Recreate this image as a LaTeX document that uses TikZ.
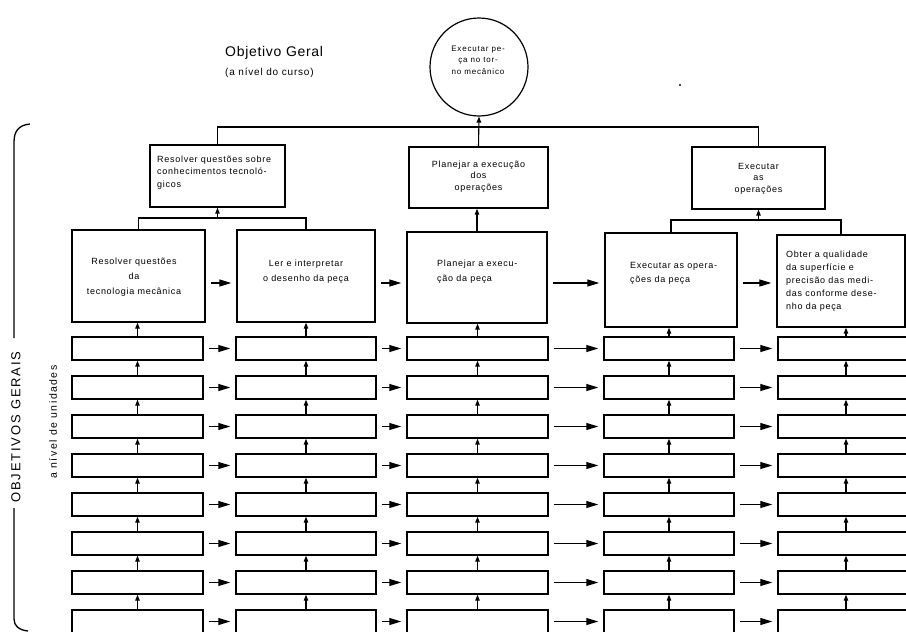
\documentclass[tikz,border=0pt]{standalone}
\usepackage{fontspec}
\setmainfont{Liberation Sans}
\newfontfamily\boxfont[LetterSpace=8]{Liberation Sans}
\newfontfamily\circfont[LetterSpace=10]{Liberation Sans}
\newfontfamily\titlefont[LetterSpace=5]{Liberation Sans}
\newfontfamily\sidefont[LetterSpace=14]{Liberation Sans}
\usetikzlibrary{arrows.meta}

\begin{document}
\begin{tikzpicture}[x=1pt,y=-1pt,
  box/.style={draw, line width=1.4pt, inner sep=0pt},
  txt/.style={inner sep=0pt, font=\boxfont\fontsize{9}{#1}\selectfont},
  txt/.default=13,
  conn/.style={line width=1.1pt},
  harrow/.style={line width=1.1pt, -{Triangle[length=12pt,width=7pt]},
                 shorten <=5pt, shorten >=5pt},
  varrow/.style={line width=1.1pt, -{Triangle[length=6pt,width=4.5pt]}}]
\useasboundingbox (0,0) rectangle (906,632);

% headings
\node[anchor=west, inner sep=0pt, font=\titlefont\fontsize{14}{16}\selectfont]
  (title) at (225,53) {Objetivo Geral};
\node[anchor=west, inner sep=0pt, font=\boxfont\fontsize{10}{12}\selectfont]
  (subtitle) at (225,73) {(a nível do curso)};
\fill (680,85) circle (1.2pt);

% course goal
\node[draw, circle, line width=1.2pt, minimum size=98pt, inner sep=0pt] (goal) at (479,67) {};
\node[inner sep=0pt, align=center, font=\circfont\fontsize{8}{11.5}\selectfont]
  (goaltext) at (478,60) {Executar pe-\\ça no tor-\\no mecânico};

% first level
\node[box, minimum width=135pt, minimum height=62pt] (B1) at (217.5,176) {};
\node[box, minimum width=139pt, minimum height=61pt] (B2) at (478.5,177.5) {};
\node[box, minimum width=133pt, minimum height=62pt] (B3) at (758.5,178) {};
\node[txt=12.5, anchor=west, align=left] (B1t) at (157,172.5)
  {Resolver questões sobre\\conhecimentos tecnoló-\\gicos};
\node[txt=11.5, align=center] (B2t) at (478.5,176.5)
  {Planejar a execução\\dos\\operações};
\node[txt=11.5, align=center] (B3t) at (758.5,178.5)
  {Executar\\as\\operações};

% second level
\node[box, minimum width=133pt, minimum height=92pt] (C1) at (138.5,276) {};
\node[box, minimum width=138pt, minimum height=92pt] (C2) at (306,276) {};
\node[box, minimum width=140pt, minimum height=91pt] (C3) at (477,277.5) {};
\node[box, minimum width=132pt, minimum height=94pt] (C4) at (671,280) {};
\node[box, minimum width=128pt, minimum height=92pt] (C5) at (841,281) {};
\node[txt=15, align=center] (C1t) at (134,277)
  {Resolver questões\\da\\tecnologia mecânica};
\node[txt=15, align=center] (C2t) at (306,272)
  {Ler e interpretar\\o desenho da peça};
\node[txt=15, anchor=west, align=left] (C3t) at (437,271.5)
  {Planejar a execu-\\ção da peça};
\node[txt=14, anchor=west, align=left] (C4t) at (630,273)
  {Executar as opera-\\ções da peça};
\node[txt=13, anchor=west, align=left] (C5t) at (786,281.5)
  {Obter a qualidade\\da superfície e\\precisão das medi-\\das conforme dese-\\nho da peça};

% connectors between the upper levels
\draw[conn] (B1.north) -- (B1.north |- 0,127) -- (B3.north |- 0,127) -- (B3.north);
\draw[varrow] (B2.north) -- (goal.south);
\draw[conn] (C1.north) -- (C1.north |- 0,218) -- (C2.north |- 0,218) -- (C2.north);
\draw[varrow] (B1.south |- 0,218) -- (B1.south);
\draw[varrow] (C3.north) -- (C3.north |- B2.south);
\draw[conn] (C4.north) -- (C4.north |- 0,220) -- (C5.north |- 0,220) -- (C5.north);
\draw[varrow] (B3.south |- 0,220) -- (B3.south);

\draw[harrow] (C1.east |- 0,283) -- (C2.west |- 0,283);
\draw[harrow] (C2.east |- 0,283) -- (C3.west |- 0,283);
\draw[harrow] (C3.east |- 0,283) -- (C4.west |- 0,283);
\draw[harrow] (C4.east |- 0,283) -- (C5.west |- 0,283);

% unit-level goals: eight rows of five empty boxes
\foreach \c/\x/\w in {1/137.5/131, 2/306/140, 3/477.5/141, 4/669/130, 5/846/136}{
  \foreach \k in {1,...,8}{
    \node[box, minimum width=\w pt, minimum height=23pt] (r\k c\c) at (\x,{348.5+39*(\k-1)}) {};
  }
}
\foreach \c in {1,...,5}{
  \draw[varrow] (r1c\c.north) -- (r1c\c.north |- C\c.south);
  \foreach \k in {2,...,8}{
    \pgfmathtruncatemacro\up{\k-1}
    \draw[varrow] (r\k c\c.north) -- (r\up c\c.south);
  }
}
\foreach \k in {1,...,8}{
  \draw[harrow] (r\k c1.east) -- (r\k c2.west);
  \draw[harrow] (r\k c2.east) -- (r\k c3.west);
  \draw[harrow] (r\k c3.east) -- (r\k c4.west);
  \draw[harrow] (r\k c4.east) -- (r\k c5.west);
}

% side bracket with its labels
\node[inner sep=0pt, rotate=90, font=\sidefont\fontsize{13}{15}\selectfont]
  (side) at (16,427) {OBJETIVOS GERAIS};
\node[inner sep=0pt, rotate=90, font=\sidefont\fontsize{10.5}{12}\selectfont]
  (sidesub) at (53,422) {a nível de unidades};
\draw[line width=1.3pt] (30,124) .. controls (19,125) and (14,131) .. (14,142) -- (14,338);
\draw[line width=1.3pt] (14,508) -- (14,619) .. controls (14,626) and (19,630) .. (28,631);
\end{tikzpicture}
\end{document}
